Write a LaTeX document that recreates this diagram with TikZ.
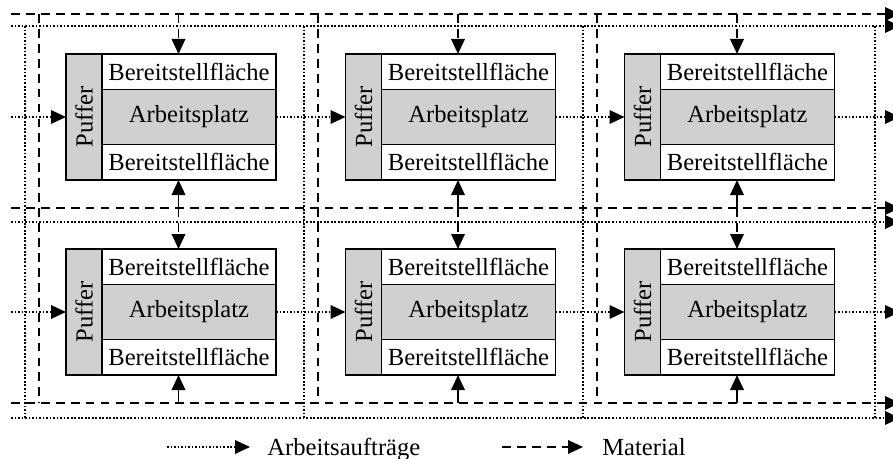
\documentclass[tikz,border=0pt]{standalone}
\usepackage{fontspec}
\setmainfont{Liberation Serif}
\usepackage{tikz}
\usetikzlibrary{arrows.meta, positioning}
\definecolor{boxgray}{RGB}{208,208,208}

\begin{document}
\begin{tikzpicture}[
    font=\fontsize{14}{16}\selectfont,
    bf/.style={draw, fill=white, minimum width=3.48cm, minimum height=0.71cm, inner sep=0pt, outer sep=0pt, line width=0.8pt},
    ap/.style={bf, fill=boxgray, minimum height=1.1cm},
    puffer/.style={draw, fill=boxgray, minimum width=0.72cm, minimum height=2.52cm, inner sep=0pt, outer sep=0pt, line width=0.8pt},
    mat/.style={line width=1.1pt, dash pattern=on 5pt off 3.5pt},
    ord/.style={line width=1.1pt, dash pattern=on 1pt off 1pt},
    tip/.style={-{Triangle[length=0.3cm, width=0.27cm]}}
]
\useasboundingbox (0,0) rectangle (17.86,-9.18);

% Materialwege
\draw[mat, tip] (0.22,-0.28) -- (18.0,-0.28);
\draw[mat, tip] (0.22,-4.16) -- (18.0,-4.16);
\draw[mat, tip] (0.22,-8.06) -- (18.0,-8.06);
\draw[mat] (0.78,-0.28) -- (0.78,-8.06);
\draw[mat] (6.36,-0.28) -- (6.36,-8.06);
\draw[mat] (11.94,-0.28) -- (11.94,-8.06);

% Auftragswege
\draw[ord, tip] (0.22,-0.52) -- (18.0,-0.52);
\draw[ord, tip] (0.22,-4.44) -- (18.0,-4.44);
\draw[ord, tip] (0.22,-8.36) -- (18.0,-8.36);
\draw[ord] (0.5,-0.52) -- (0.5,-8.36);
\draw[ord] (6.08,-0.52) -- (6.08,-8.36);
\draw[ord] (11.66,-0.52) -- (11.66,-8.36);
\draw[ord] (17.5,-0.52) -- (17.5,-8.36);

% Arbeitsplaetze
\node[ap] (ap11) at (3.78,-2.34) {Arbeitsplatz};
\node[bf, above=0pt of ap11] (bfo11) {Bereitstellfläche};
\node[bf, below=0pt of ap11] (bfu11) {Bereitstellfläche};
\node[puffer, left=0pt of ap11] (pu11) {\rotatebox{90}{Puffer}};

\node[ap] (ap12) at (9.37,-2.34) {Arbeitsplatz};
\node[bf, above=0pt of ap12] (bfo12) {Bereitstellfläche};
\node[bf, below=0pt of ap12] (bfu12) {Bereitstellfläche};
\node[puffer, left=0pt of ap12] (pu12) {\rotatebox{90}{Puffer}};

\node[ap] (ap13) at (14.95,-2.34) {Arbeitsplatz};
\node[bf, above=0pt of ap13] (bfo13) {Bereitstellfläche};
\node[bf, below=0pt of ap13] (bfu13) {Bereitstellfläche};
\node[puffer, left=0pt of ap13] (pu13) {\rotatebox{90}{Puffer}};

\node[ap] (ap21) at (3.78,-6.24) {Arbeitsplatz};
\node[bf, above=0pt of ap21] (bfo21) {Bereitstellfläche};
\node[bf, below=0pt of ap21] (bfu21) {Bereitstellfläche};
\node[puffer, left=0pt of ap21] (pu21) {\rotatebox{90}{Puffer}};

\node[ap] (ap22) at (9.37,-6.24) {Arbeitsplatz};
\node[bf, above=0pt of ap22] (bfo22) {Bereitstellfläche};
\node[bf, below=0pt of ap22] (bfu22) {Bereitstellfläche};
\node[puffer, left=0pt of ap22] (pu22) {\rotatebox{90}{Puffer}};

\node[ap] (ap23) at (14.95,-6.24) {Arbeitsplatz};
\node[bf, above=0pt of ap23] (bfo23) {Bereitstellfläche};
\node[bf, below=0pt of ap23] (bfu23) {Bereitstellfläche};
\node[puffer, left=0pt of ap23] (pu23) {\rotatebox{90}{Puffer}};

% Materialzufuhr
\coordinate (mo1) at (3.57,-0.28);  \coordinate (mm1) at (3.57,-4.16);  \coordinate (mu1) at (3.57,-8.06);
\coordinate (mo2) at (9.16,-0.28);  \coordinate (mm2) at (9.16,-4.16);  \coordinate (mu2) at (9.16,-8.06);
\coordinate (mo3) at (14.74,-0.28); \coordinate (mm3) at (14.74,-4.16); \coordinate (mu3) at (14.74,-8.06);

\draw[mat, tip] (mo1) -- (mo1 |- bfo11.north);
\draw[mat, solid, tip] (mm1) -- (mm1 |- bfu11.south);
\draw[mat, tip] (mm1) -- (mm1 |- bfo21.north);
\draw[mat, solid, tip] (mu1) -- (mu1 |- bfu21.south);

\draw[mat, tip] (mo2) -- (mo2 |- bfo12.north);
\draw[mat, solid, tip] (mm2) -- (mm2 |- bfu12.south);
\draw[mat, tip] (mm2) -- (mm2 |- bfo22.north);
\draw[mat, solid, tip] (mu2) -- (mu2 |- bfu22.south);

\draw[mat, tip] (mo3) -- (mo3 |- bfo13.north);
\draw[mat, solid, tip] (mm3) -- (mm3 |- bfu13.south);
\draw[mat, tip] (mm3) -- (mm3 |- bfo23.north);
\draw[mat, solid, tip] (mu3) -- (mu3 |- bfu23.south);

% Auftragsfluss
\coordinate (ein1) at (0.22,-2.34); \coordinate (aus1) at (18.0,-2.34);
\coordinate (ein2) at (0.22,-6.24); \coordinate (aus2) at (18.0,-6.24);

\draw[ord, tip] (ein1) -- (pu11.west);
\draw[ord, tip] (ap11.east) -- (pu12.west);
\draw[ord, tip] (ap12.east) -- (pu13.west);
\draw[ord, tip] (ap13.east) -- (aus1);

\draw[ord, tip] (ein2) -- (pu21.west);
\draw[ord, tip] (ap21.east) -- (pu22.west);
\draw[ord, tip] (ap22.east) -- (pu23.west);
\draw[ord, tip] (ap23.east) -- (aus2);

% Legende
\coordinate (lo) at (3.34,-8.94);
\coordinate (lm) at (10.04,-8.94);
\node[anchor=base west, inner xsep=0.34cm, inner ysep=0pt] (lgord) at (5.0,-9.10) {Arbeitsaufträge};
\node[anchor=base west, inner xsep=0.38cm, inner ysep=0pt] (lgmat) at (11.66,-9.10) {Material};
\draw[ord, tip] (lo) -- (lo -| lgord.west);
\draw[mat, tip] (lm) -- (lm -| lgmat.west);
\end{tikzpicture}
\end{document}
